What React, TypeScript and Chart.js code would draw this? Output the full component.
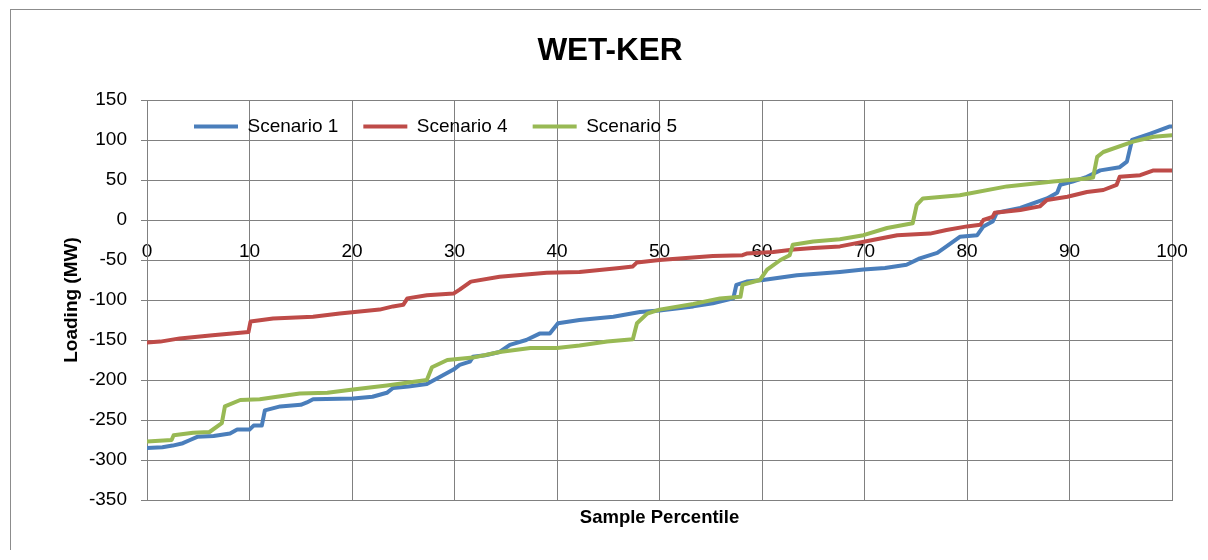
import React, { useEffect, useRef } from 'react';
import { Chart, registerables } from 'chart.js';

Chart.register(...registerables);

const TITLE = 'WET-KER';
const X_TITLE = 'Sample Percentile';
const Y_TITLE = 'Loading (MW)';
const SERIES_NAMES = ['Scenario 1', 'Scenario 4', 'Scenario 5'];
const SERIES_COLORS = ['#4A7EBB', '#BE4B48', '#98B954'];

const S1_X = [0, 1.5, 2.5, 3.5, 4.2, 4.9, 6.5, 8.1, 8.8, 10, 10.4, 11.2, 11.5, 13, 15, 15.6, 16.2, 20.1, 22, 23.4, 24, 25.5, 27.3, 28.6, 29.9, 30.5, 31.5, 31.8, 33, 34.4, 35.4, 37, 38.3, 39.3, 40.1, 42.2, 45.5, 48.1, 50, 53.3, 55.2, 57.2, 57.5, 58.5, 60.1, 63.4, 65.7, 67.6, 69.9, 72, 74.1, 75.4, 77.1, 78, 79.3, 81, 81.6, 82.5, 82.9, 85.2, 87.8, 88.8, 89.1, 90.3, 91.7, 93, 94.9, 95.6, 96.1, 97.9, 99.8, 100];
const S1_Y = [-285, -284, -282, -279, -275, -271, -270, -267, -262, -262, -257, -257, -238, -233, -231, -228, -224, -223, -221, -216, -210, -208, -205, -196, -187, -181, -177, -171, -169, -165, -156, -150, -142, -142, -129, -125, -121, -115, -113, -108, -104, -98, -81, -77, -75, -69, -67, -65, -62, -60, -56, -48, -41, -33, -21, -19, -8, -2, 9, 15, 27, 34, 44, 48, 54, 62, 66, 73, 100, 108, 117, 117];

const S4_X = [0, 1.3, 3.2, 6.4, 9.1, 9.9, 10.1, 12.3, 16.2, 18.8, 22.7, 24, 25, 25.4, 27.3, 29.9, 30.5, 31.6, 34.4, 39, 42.2, 46.1, 47.4, 47.8, 50, 55.2, 58.1, 58.5, 61.1, 63.1, 65, 67.6, 70.8, 73.2, 76.4, 78, 80, 81.3, 81.6, 82.5, 82.7, 85.2, 87.1, 87.8, 89.8, 91.7, 93.3, 94.6, 94.9, 96.9, 98.2, 100];
const S4_Y = [-153, -152, -148, -144, -141, -140, -127, -123, -121, -117, -112, -108, -106, -98, -94, -92, -87, -77, -71, -66, -65, -60, -58, -53, -50, -45, -44, -42, -40, -37, -35, -33, -25, -19, -17, -12.5, -8, -6, 0, 4, 9, 12.5, 17, 25, 29, 35, 37.5, 44, 54, 56, 62, 62];

const S5_X = [0, 2.4, 2.6, 4.5, 6.1, 7.3, 7.6, 9.1, 11, 14.9, 17.6, 20.1, 23.4, 27.3, 27.8, 29.3, 31.8, 34.4, 37.4, 40, 42.2, 44.9, 47.4, 47.8, 48.8, 50, 53.3, 55.9, 57.9, 58.1, 59.8, 60.5, 61.8, 62.7, 63, 65, 67.6, 69.9, 72.2, 74.7, 75.1, 75.7, 79.3, 83.9, 88.4, 91.7, 92.3, 92.7, 93.3, 96.2, 98.2, 100];
const S5_Y = [-277, -275, -269, -266, -265, -254, -233, -225, -224, -217, -216, -212, -207, -200, -184, -175, -172, -165, -160, -160, -157, -152, -149, -129, -117, -112, -105, -98, -96, -81, -75, -62, -50, -44, -31, -27, -24, -19, -10, -4, 19, 27, 31, 42, 48, 52, 53, 79, 85, 98, 104, 106];

const X_MIN = 0;
const X_MAX = 100;
const X_STEP = 10;
const Y_MIN = -350;
const Y_MAX = 150;
const Y_STEP = 50;

const FONT = "'Liberation Sans', Arial, sans-serif";
const GRID = '#808080';

const toPoints = (xs: number[], ys: number[]) => xs.map((x, i) => ({ x, y: ys[i] }));

const legendInside = {
  id: 'legendInside',
  afterLayout(chart: any) {
    const l = chart.legend;
    if (!l) return;
    const h = 80;
    l.left = 158;
    l.right = chart.chartArea.right;
    l.top = 82;
    l.bottom = 82 + h;
  },
};

export default function App() {
  const ref = useRef<HTMLCanvasElement | null>(null);

  useEffect(() => {
    if (!ref.current) return;
    const seriesX = [S1_X, S4_X, S5_X];
    const seriesY = [S1_Y, S4_Y, S5_Y];
    const orders = [2, 1, 0];
    const chart = new Chart(ref.current, {
      type: 'line',
      data: {
        datasets: SERIES_NAMES.map((name, i) => ({
          label: name,
          data: toPoints(seriesX[i], seriesY[i]),
          borderColor: SERIES_COLORS[i],
          backgroundColor: SERIES_COLORS[i],
          borderWidth: 4,
          borderCapStyle: 'round',
          borderJoinStyle: 'round',
          pointRadius: 0,
          tension: 0,
          fill: false,
          order: orders[i],
        })),
      },
      options: {
        animation: false,
        responsive: false,
        devicePixelRatio: 1,
        layout: { padding: { left: 8, right: 0, top: 0, bottom: 0 } },
        plugins: {
          title: {
            display: true,
            text: TITLE,
            color: '#000',
            font: { family: FONT, size: 31.5, weight: 'bold' },
            padding: { top: 22.6, bottom: 28.6 },
          },
          legend: {
            display: true,
            position: 'top',
            align: 'start',
            maxHeight: 1,
            labels: {
              usePointStyle: true,
              pointStyle: 'line',
              pointStyleWidth: 44,
              padding: 25,
              color: '#000',
              font: { family: FONT, size: 19 },
              sort: (a: any, b: any) => a.datasetIndex - b.datasetIndex,
            },
          },
          tooltip: { enabled: false },
        },
        scales: {
          x: {
            type: 'linear',
            position: 'bottom',
            min: X_MIN,
            max: X_MAX,
            ticks: { display: false, stepSize: X_STEP },
            grid: { color: GRID, drawTicks: false, lineWidth: 1 },
            border: { color: GRID },
            title: {
              display: true,
              text: X_TITLE,
              color: '#000',
              font: { family: FONT, size: 18.5, weight: 'bold' },
              padding: { top: 0, bottom: 21 },
            },
            afterFit: (s: any) => {
              s.height = 50;
            },
          },
          x2: {
            type: 'linear',
            position: { y: 0 },
            min: X_MIN,
            max: X_MAX,
            ticks: {
              stepSize: X_STEP,
              padding: 0,
              maxRotation: 0,
              autoSkip: false,
              color: '#000',
              font: { family: FONT, size: 19 },
            },
            grid: { display: false, drawTicks: true, tickLength: 20 },
            border: { display: true, color: GRID },
          },
          y: {
            type: 'linear',
            min: Y_MIN,
            max: Y_MAX,
            ticks: {
              stepSize: Y_STEP,
              padding: 14,
              color: '#000',
              font: { family: FONT, size: 19 },
            },
            grid: { color: GRID, tickLength: 6, lineWidth: 1 },
            border: { color: GRID },
            title: {
              display: true,
              text: Y_TITLE,
              color: '#000',
              font: { family: FONT, size: 19, weight: 'bold' },
              padding: { top: 41, bottom: 0 },
            },
            afterFit: (s: any) => {
              s.width = 128;
            },
          },
          yR: {
            type: 'linear',
            position: 'right',
            min: Y_MIN,
            max: Y_MAX,
            ticks: { display: false },
            grid: { display: false, drawTicks: false },
            border: { display: false },
            afterFit: (s: any) => {
              s.width = 29;
            },
          },
        },
      } as any,
      plugins: [legendInside],
    });
    return () => chart.destroy();
  }, []);

  return (
    <div
      style={{
        position: 'absolute',
        left: 10,
        top: 9,
        borderTop: '1px solid #8c8c8c',
        borderLeft: '1px solid #8c8c8c',
        background: '#fff',
      }}
    >
      <canvas ref={ref} width={1190} height={540} style={{ display: 'block', width: 1190, height: 540 }} />
    </div>
  );
}
